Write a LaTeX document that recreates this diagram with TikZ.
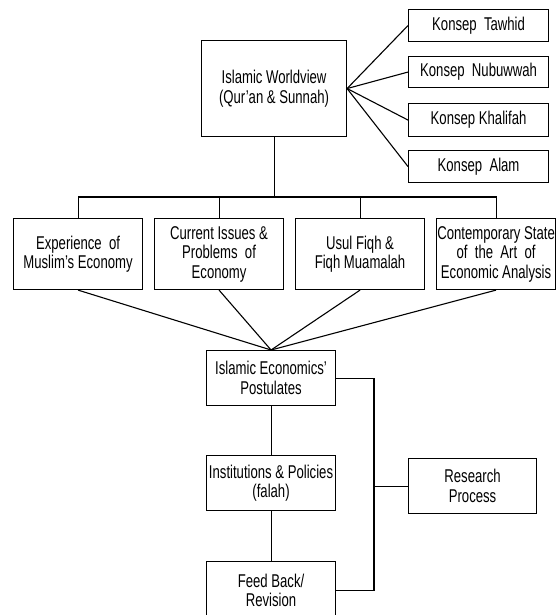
\documentclass[tikz,border=0pt]{standalone}
\usepackage{fontspec}
\setmainfont[FakeStretch=0.71]{Liberation Sans}
\begin{document}
\begin{tikzpicture}[x=1pt,y=-1pt,
  box/.style={draw, line width=1.1pt, inner sep=0pt, align=center, anchor=north west,
    font=\fontsize{18.5}{19.5}\selectfont},
  conn/.style={line width=1.1pt}]
\useasboundingbox (0,0) rectangle (558,615);
% top
\node[box, minimum width=145pt, minimum height=96pt] (wv) at (201,40) {Islamic Worldview\\(Qur'an \& Sunnah)};
\node[box, minimum width=140pt, minimum height=32pt] (k1) at (408,9) {Konsep\ \ Tawhid};
\node[box, minimum width=140pt, minimum height=31pt] (k2) at (408,56) {Konsep\ \ Nubuwwah};
\node[box, minimum width=140pt, minimum height=33pt] (k3) at (408,103) {Konsep Khalifah};
\node[box, minimum width=140pt, minimum height=32pt] (k4) at (408,150) {Konsep\ \ Alam};
% middle row
\node[box, minimum width=129pt, minimum height=71pt] (e1) at (13,218) {Experience\ \ of\\Muslim's Economy};
\node[box, minimum width=129pt, minimum height=71pt] (e2) at (154,218) {Current Issues \&\\Problems\ \ of\\Economy};
\node[box, minimum width=129pt, minimum height=71pt] (e3) at (295,218) {Usul Fiqh \&\\Fiqh Muamalah};
\node[box, minimum width=119pt, minimum height=71pt] (e4) at (436,218) {Contemporary State\\of\ \ the\ \ Art\ \ of\\Economic Analysis};
% lower column
\node[box, minimum width=129pt, minimum height=55pt] (post) at (206,350) {Islamic Economics'\\Postulates};
\node[box, minimum width=129pt, minimum height=55pt] (inst) at (206,455) {Institutions \& Policies\\(falah)};
\node[box, minimum width=129pt, minimum height=58pt] (fb) at (206,561) {Feed Back/\\Revision};
\node[box, minimum width=128pt, minimum height=55pt] (rp) at (408,458) {Research\\Process};
\coordinate (bus) at (270,197);
\coordinate (brx) at (374,0);
% connectors
\foreach \k in {k1,k2,k3,k4} \draw[conn] (wv.east) -- (\k.west);
\draw[conn] (wv.south) -- (wv.south |- bus);
\draw[conn] (e1.north) -- (e1.north |- bus) -- (e4.north |- bus) -- (e4.north);
\draw[conn] (e2.north) -- (e2.north |- bus);
\draw[conn] (e3.north) -- (e3.north |- bus);
\foreach \e in {e1,e2,e3,e4} \draw[conn] (\e.south) -- (post.north);
\draw[conn] (post.south) -- (inst.north);
\draw[conn] (inst.south) -- (fb.north);
\draw[conn] (post.east) -- (post.east -| brx) -- (fb.east -| brx) -- (fb.east);
\draw[conn] (rp.west) -- (rp.west -| brx);
\end{tikzpicture}
\end{document}
